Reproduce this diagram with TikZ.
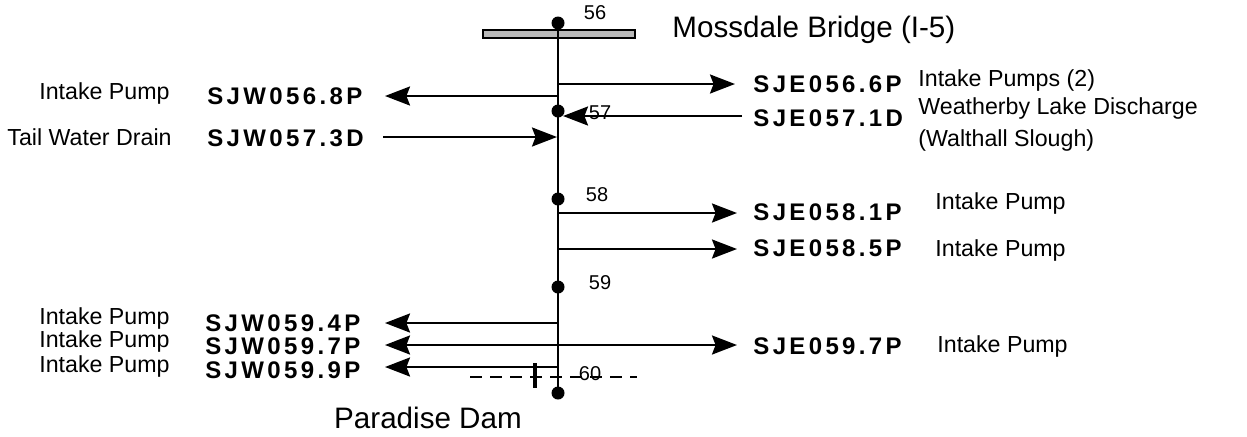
\documentclass[tikz,border=0pt]{standalone}
\usepackage{fontspec}
\setmainfont{Liberation Sans}
\newfontfamily\codefont[LetterSpace=14]{Liberation Sans}
\usetikzlibrary{arrows.meta}

\begin{document}
\begin{tikzpicture}[x=0.5pt, y=-0.5pt,
    river/.style={line width=1.1pt},
    tip/.tip={Stealth[length=12.5pt, width=9.5pt, inset=1.8pt]},
    flow/.style={line width=1.2pt, -tip},
    dot/.style={circle, fill=black, inner sep=0pt, minimum size=6.5pt},
    code/.style={font=\codefont\bfseries\fontsize{12}{14}\selectfont, inner sep=0pt},
    lbl/.style={font=\fontsize{11.6}{16}\selectfont, inner sep=0pt},
    mile/.style={font=\fontsize{10}{12}\selectfont, inner sep=0pt},
    place/.style={font=\fontsize{14.8}{18}\selectfont, inner sep=0pt}]
    \useasboundingbox (0,0) rectangle (1247,436);

    % Bridge, river and mile marks
    \filldraw[fill=gray!55, draw=black, line width=1.2pt] (483,30) rectangle (635,38);
    \node[dot] (m56) at (558,23) {};
    \node[dot] (m57) at (558,111) {};
    \node[dot] (m58) at (558,199) {};
    \node[dot] (m59) at (558,287) {};
    \node[dot] (dam) at (558,393) {};
    \draw[river] (m56.center) -- (dam.center);

    \node[mile] (k56) at (595,13) {56};
    \node[mile] (k57) at (600,113) {57};
    \node[mile] (k58) at (597,195) {58};
    \node[mile] (k59) at (600,283) {59};
    \node[mile] (k60) at (590,374) {60};

    \node[place, anchor=west] (mossdale) at (672,30) {Mossdale Bridge (I-5)};
    \node[place] (paradise) at (428,418) {Paradise Dam};

    % Dam line
    \draw[line width=1pt, dash pattern=on 6pt off 4pt] (470,377) -- (637,377);
    \draw[line width=2pt] (535,363) -- (535,388);

    % SJE056.6P
    \coordinate (r566) at (558,84);
    \coordinate (t566) at (735,84);
    \draw[flow] (r566) -- (t566);
    \node[code, anchor=west] (sje566) at (753,84) {SJE056.6P};
    \node[lbl, anchor=west] (use566) at (918,80) {Intake Pumps (2)};

    % SJW056.8P
    \coordinate (r568) at (558,96);
    \coordinate (t568) at (385,96);
    \draw[flow] (r568) -- (t568);
    \node[code, anchor=west] (sjw568) at (207,96) {SJW056.8P};
    \node[lbl, anchor=east] (use568) at (170,93) {Intake Pump};

    % SJE057.1D
    \coordinate (s571) at (742,116);
    \coordinate (t571) at (563,116);
    \draw[flow] (s571) -- (t571);
    \node[code, anchor=west] (sje571) at (753,118) {SJE057.1D};
    \node[lbl, anchor=west, align=left] (use571) at (918,124) {Weatherby Lake Discharge\\(Walthall Slough)};

    % SJW057.3D
    \coordinate (s573) at (383,137);
    \coordinate (t573) at (557,137);
    \draw[flow] (s573) -- (t573);
    \node[code, anchor=west] (sjw573) at (207,138) {SJW057.3D};
    \node[lbl, anchor=east] (use573) at (172,137) {Tail Water Drain};

    % SJE058.1P
    \coordinate (r581) at (558,213);
    \coordinate (t581) at (737,213);
    \draw[flow] (r581) -- (t581);
    \node[code, anchor=west] (sje581) at (753,212) {SJE058.1P};
    \node[lbl, anchor=west] (use581) at (935,203) {Intake Pump};

    % SJE058.5P
    \coordinate (r585) at (558,249);
    \coordinate (t585) at (737,249);
    \draw[flow] (r585) -- (t585);
    \node[code, anchor=west] (sje585) at (753,248) {SJE058.5P};
    \node[lbl, anchor=west] (use585) at (935,250) {Intake Pump};

    % SJW059.4P
    \coordinate (r594) at (558,323);
    \coordinate (t594) at (385,323);
    \draw[flow] (r594) -- (t594);
    \node[code, anchor=west] (sjw594) at (205,323) {SJW059.4P};
    \node[lbl, anchor=east] (use594) at (170,318) {Intake Pump};

    % SJW059.7P and SJE059.7P
    \coordinate (w597) at (385,345);
    \coordinate (e597) at (737,345);
    \draw[flow, tip-tip] (w597) -- (e597);
    \node[code, anchor=west] (sjw597) at (205,346) {SJW059.7P};
    \node[lbl, anchor=east] (usew597) at (170,341) {Intake Pump};
    \node[code, anchor=west] (sje597) at (753,346) {SJE059.7P};
    \node[lbl, anchor=west] (usee597) at (937,346) {Intake Pump};

    % SJW059.9P
    \coordinate (r599) at (558,367);
    \coordinate (t599) at (385,367);
    \draw[flow] (r599) -- (t599);
    \node[code, anchor=west] (sjw599) at (205,370) {SJW059.9P};
    \node[lbl, anchor=east] (use599) at (170,366) {Intake Pump};
\end{tikzpicture}
\end{document}
